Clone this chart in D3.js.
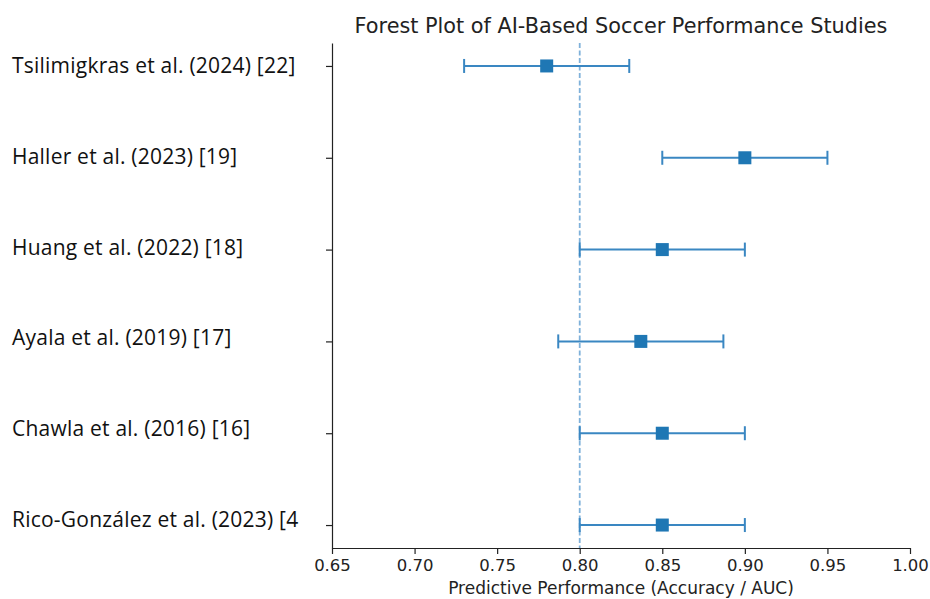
<!DOCTYPE html>
<html><head><meta charset="utf-8">
<script src="https://cdn.jsdelivr.net/npm/d3@7"></script>
<style>body{margin:0;background:#fff}svg{display:block}</style>
</head><body>
<script>
const studies = ["Tsilimigkras et al. (2024) [22]","Haller et al. (2023) [19]","Huang et al. (2022) [18]","Ayala et al. (2019) [17]","Chawla et al. (2016) [16]","Rico-González et al. (2023) [4"];
const estimates = [0.78, 0.90, 0.85, 0.837, 0.85, 0.85];
const lowerCI = [0.73, 0.85, 0.80, 0.787, 0.80, 0.80];
const upperCI = [0.83, 0.95, 0.90, 0.887, 0.90, 0.90];
const xTicks = [0.65,0.70,0.75,0.80,0.85,0.90,0.95,1.00];
const refValue = 0.80;

const W=930,H=599;
const svg=d3.select("body").append("svg").attr("width",W).attr("height",H);
const L=332,R=910,T=43,B=548;
const x=d3.scaleLinear().domain([0.65,1.0]).range([L,R]);
const y=d3.scaleLinear().domain([-0.25,5.25]).range([T,B]);
const labelY=d3.scaleLinear().domain([0,studies.length-1]).range([73,527]);
const blue="#1f77b4", errBlue="#3a87c2", refBlue="#7fb1da";

// title
svg.append("text").attr("x",(L+R)/2).attr("y",33).attr("text-anchor","middle")
  .attr("font-family","DejaVu Sans").attr("font-size",20.8).attr("fill","#222")
  .text("Forest Plot of AI-Based Soccer Performance Studies");

// reference line
svg.append("line").attr("x1",x(refValue)).attr("x2",x(refValue)).attr("y1",T).attr("y2",B)
  .attr("stroke",refBlue).attr("stroke-width",1.8).attr("stroke-dasharray","5,2.5");

const g=svg.append("g");
studies.forEach((s,i)=>{
  const yy=y(i);
  g.append("line").attr("x1",x(lowerCI[i])).attr("x2",x(upperCI[i])).attr("y1",yy).attr("y2",yy)
    .attr("stroke",errBlue).attr("stroke-width",2);
  [lowerCI[i],upperCI[i]].forEach(v=>{
    g.append("line").attr("x1",x(v)).attr("x2",x(v)).attr("y1",yy-7).attr("y2",yy+7)
      .attr("stroke",errBlue).attr("stroke-width",2);
  });
  g.append("rect").attr("x",x(estimates[i])-6.5).attr("y",yy-6.5).attr("width",13).attr("height",13)
    .attr("fill",blue);
});

// axes
const xa=svg.append("g").attr("transform",`translate(0,${B})`)
  .call(d3.axisBottom(x).tickValues(xTicks).tickFormat(d3.format(".2f")).tickSize(6).tickSizeOuter(0));
xa.select(".domain").attr("stroke","#222").attr("stroke-width",1.2);
xa.selectAll(".tick line").attr("stroke","#222").attr("stroke-width",1.2);
xa.selectAll("text").attr("font-family","DejaVu Sans").attr("font-size",16.5).attr("fill","#222").attr("dy","0.85em");

const ya=svg.append("g").attr("transform",`translate(${L},0)`)
  .call(d3.axisLeft(y).tickValues(d3.range(studies.length)).tickFormat("").tickSize(6).tickSizeOuter(0));
ya.select(".domain").attr("stroke","#222").attr("stroke-width",1.2);
ya.selectAll(".tick line").attr("stroke","#222").attr("stroke-width",1.2);

// study labels
svg.append("g").selectAll("text").data(studies).join("text")
  .attr("x",12).attr("y",(d,i)=>labelY(i)).attr("font-family","'Open Sans', sans-serif")
  .attr("font-size",21).attr("letter-spacing",0.22).attr("fill","#111").text(d=>d);

svg.append("text").attr("x",(L+R)/2).attr("y",594).attr("text-anchor","middle")
  .attr("font-family","DejaVu Sans").attr("font-size",17).attr("fill","#222")
  .text("Predictive Performance (Accuracy / AUC)");
</script>
</body></html>
